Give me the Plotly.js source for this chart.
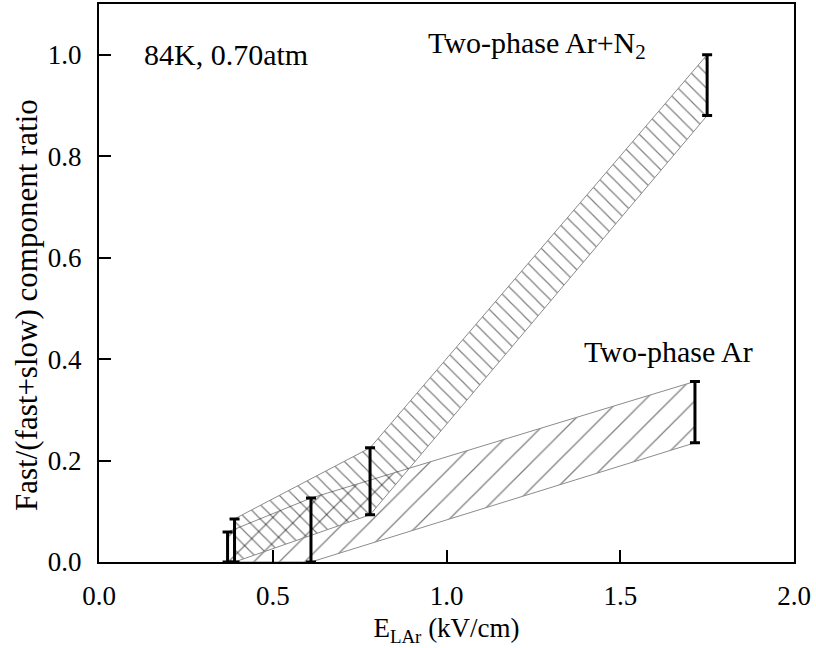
<!DOCTYPE html>
<html>
<head>
<meta charset="utf-8">
<script src="https://cdn.plot.ly/plotly-3.0.1.min.js"></script>
<style>html,body{margin:0;padding:0;background:#fff;}#chart{width:816px;height:648px;}</style>
</head>
<body>
<div id="chart"></div>
<script>
// Two-phase Ar+N2 band
var n2X = [0.39, 0.78, 1.75];
var n2Upper = [0.085, 0.225, 1.0];
var n2Lower = [0.0, 0.093, 0.88];
// Two-phase Ar band
var arX = [0.37, 0.61, 1.715];
var arUpper = [0.059, 0.126, 0.356];
var arLower = [0.0, 0.0, 0.235];

var xTicks = [0.0, 0.5, 1.0, 1.5, 2.0];
var xTickText = ['0.0', '0.5', '1.0', '1.5', '2.0'];
var yTicks = [0.0, 0.2, 0.4, 0.6, 0.8, 1.0];
var yTickText = ['0.0', '0.2', '0.4', '0.6', '0.8', '1.0'];

var FONT = 'Liberation Serif, Times New Roman, serif';

function band(xs, up, lo, shape, size, sol) {
  var px = xs.concat(xs.slice().reverse()).concat([xs[0]]);
  var py = up.concat(lo.slice().reverse()).concat([up[0]]);
  return {
    x: px, y: py, type: 'scatter', mode: 'lines', fill: 'toself',
    line: {color: '#8c8c8c', width: 1},
    fillcolor: 'rgba(0,0,0,0)',
    fillpattern: {shape: shape, size: size, solidity: sol, fgcolor: '#000', bgcolor: 'rgba(0,0,0,0)', fillmode: 'overlay'},
    hoverinfo: 'skip', showlegend: false
  };
}

function bars(xs, up, lo) {
  var diff = up.map(function (v, i) { return v - lo[i]; });
  var zeros = up.map(function () { return 0; });
  return {
    x: xs, y: lo, type: 'scatter', mode: 'markers',
    marker: {size: 1, color: 'rgba(0,0,0,0)'},
    error_y: {type: 'data', symmetric: false, array: diff, arrayminus: zeros, color: '#000', thickness: 3, width: 5},
    showlegend: false, hoverinfo: 'skip'
  };
}

var data = [
  band(arX, arUpper, arLower, '/', 18, 0.07),
  band(n2X, n2Upper, n2Lower, '\\', 10, 0.12),
  bars(arX, arUpper, arLower),
  bars(n2X, n2Upper, n2Lower)
];

var axisCommon = {
  showgrid: false, zeroline: false, showline: true, linecolor: '#000', linewidth: 2,
  mirror: true, ticks: 'inside', ticklen: 12, tickwidth: 2, tickcolor: '#000',
  tickfont: {family: FONT, size: 27, color: '#000'}
};

var layout = {
  width: 816, height: 648,
  margin: {l: 99, r: 22, t: 4, b: 86},
  paper_bgcolor: '#fff', plot_bgcolor: '#fff',
  font: {family: FONT, color: '#000'},
  xaxis: Object.assign({}, axisCommon, {
    range: [0, 2.0], tickvals: xTicks, ticktext: xTickText, ticklabelstandoff: 9,
    title: {text: 'E<sub>LAr</sub> (kV/cm)', font: {family: FONT, size: 27, color: '#000'}, standoff: 8}
  }),
  yaxis: Object.assign({}, axisCommon, {
    range: [0, 1.1], tickvals: yTicks, ticktext: yTickText, ticklabelstandoff: 10
  }),
  annotations: [
    {x: -0.1036, y: 0.4606, xref: 'paper', yref: 'paper', text: 'Fast/(fast+slow) component ratio',
     textangle: -90, showarrow: false, xanchor: 'center', yanchor: 'middle',
     font: {family: FONT, size: 31, color: '#000'}},
    {x: 0.124, y: 1.0, xref: 'x', yref: 'y', text: '84K, 0.70atm', showarrow: false,
     xanchor: 'left', yanchor: 'middle', font: {family: FONT, size: 30, color: '#000'}},
    {x: 1.58, y: 1.02, xref: 'x', yref: 'y', text: 'Two-phase Ar+N<sub>2</sub>', showarrow: false,
     xanchor: 'right', yanchor: 'middle', font: {family: FONT, size: 30, color: '#000'}},
    {x: 1.888, y: 0.415, xref: 'x', yref: 'y', text: 'Two-phase Ar', showarrow: false,
     xanchor: 'right', yanchor: 'middle', font: {family: FONT, size: 30, color: '#000'}}
  ]
};

Plotly.newPlot('chart', data, layout, {displayModeBar: false, staticPlot: true});
</script>
</body>
</html>
